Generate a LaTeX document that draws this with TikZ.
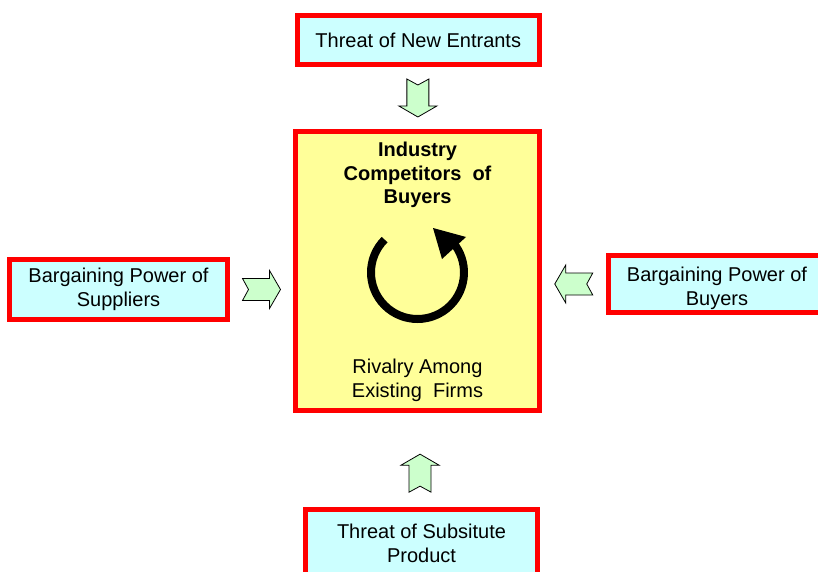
\documentclass[tikz,border=0pt]{standalone}
\usepackage{fontspec}
\setmainfont{Liberation Sans}
\usetikzlibrary{positioning,calc}

\definecolor{boxred}{HTML}{FF0000}
\definecolor{boxcyan}{HTML}{CCFFFF}
\definecolor{coreyellow}{HTML}{FFFF99}
\definecolor{arrowgreen}{HTML}{CCFFCC}

\tikzset{
  forcebox/.style={draw=boxred, line width=5pt, fill=boxcyan, inner sep=0pt,
    align=center, font=\fontsize{20}{24}\selectfont},
  corebox/.style={forcebox, fill=coreyellow},
  coretext/.style={inner sep=0pt, align=center, font=\fontsize{20}{24}\selectfont},
  pics/fatarrow/.style={code={
    \draw[fill=arrowgreen, line width=0.8pt]
      (-19,11) -- (8,11) -- (8,19) -- (19,0) -- (8,-19) -- (8,-11)
      -- (-19,-11) -- (-13,0) -- cycle;
  }}
}

\begin{document}
\begin{tikzpicture}[x=1pt, y=-1pt]
      \useasboundingbox (0,0) rectangle (818,572);
      \clip (0,0) rectangle (818,572);
      % The five forces
      \node[corebox, minimum width=244pt, minimum height=279pt] (core) at (417.5,271) {};
      \node[forcebox, minimum width=242.5pt, minimum height=48.5pt] (entrants) at (418.25,40.25)
        {Threat of New Entrants};
      \node[forcebox, minimum width=218pt, minimum height=60pt] (suppliers) at (118.5,289.5)
        {Bargaining Power of\\Suppliers};
      \node[forcebox, minimum width=218pt, minimum height=57pt] (buyers) at (717,284)
        {\rule{0pt}{24pt}Bargaining Power of\\Buyers};
      \node[forcebox, minimum width=232pt, minimum height=67pt] (substitute) at (421.5,543)
        {Threat of Subsitute\\Product};
      % Texts in the core
      \node[coretext, font=\fontsize{20}{23.5}\selectfont\bfseries, below=12.9pt of core.north] (title)
        {Industry\\Competitors\ \ of\\Buyers};
      \node[coretext, above=11.5pt of core.south] (rivalry) {Rivalry Among\\Existing\ \ Firms};
      % the turning arrow
      \coordinate (spin) at (417.5,272.5);
      \draw[line width=8pt] ([shift={(-135:46.5)}]spin)
        arc[start angle=-135, end angle=-400, radius=46.5];
      \fill (433,228) -- (466,237) -- (442,259) -- cycle;
      % Arrows into the core
      \pic[rotate=-90] at ($(entrants.south)!0.5!(core.north)$) {fatarrow};
      \pic at ($(suppliers.east)!0.5!(suppliers.east -| core.west)$) {fatarrow};
      \pic[rotate=180] at ($(buyers.west)!0.5!(buyers.west -| core.east)$) {fatarrow};
      \pic[rotate=90] at ($(core.south)!0.64!(substitute.north)$) {fatarrow};
\end{tikzpicture}
\end{document}
